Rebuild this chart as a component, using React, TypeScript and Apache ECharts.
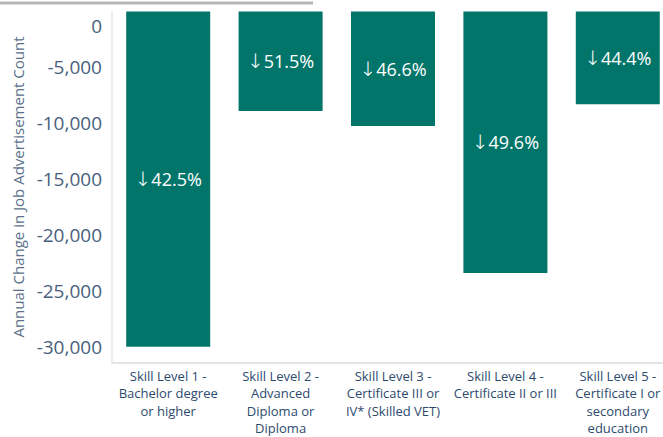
import React, { useEffect, useRef } from "react";
import * as echarts from "echarts";

const categories = [
  "Skill Level 1 -\nBachelor degree\nor higher",
  "Skill Level 2 -\nAdvanced\nDiploma or\nDiploma",
  "Skill Level 3 -\nCertificate III or\nIV* (Skilled VET)",
  "Skill Level 4 -\nCertificate II or III",
  "Skill Level 5 -\nCertificate I or\nsecondary\neducation",
];
const changeValues = [-29930, -8880, -10220, -23350, -8290];
const pctDecline = [42.5, 51.5, 46.6, 49.6, 44.4];
const yTickStep = 5000;

export default function App() {
  const ref = useRef<HTMLDivElement>(null);
  useEffect(() => {
    if (!ref.current) return;
    const chart = echarts.init(ref.current, null, { renderer: "svg" });
    chart.setOption({
      animation: false,
      backgroundColor: "#ffffff",
      grid: {
        left: 112,
        top: 11.5,
        width: 562,
        height: 351,
        containLabel: false,
        outerBoundsMode: "none",
      },
      graphic: [
        {
          type: "rect",
          shape: { x: 0, y: 1.5, width: 313, height: 3 },
          style: { fill: "#b7b7b7" },
        },
      ],
      xAxis: {
        type: "category",
        data: categories,
        position: "bottom",
        axisLine: { show: true, onZero: false, lineStyle: { color: "#e4e4e4", width: 2 } },
        axisTick: { show: false },
        axisLabel: {
          interval: 0,
          color: "#2d4a6e",
          fontFamily: "Open Sans",
          fontSize: 13,
          lineHeight: 17.3,
          margin: 5,
          fontWeight: 500,
        },
      },
      yAxis: {
        type: "value",
        min: -31340,
        max: 0,
        splitNumber: 6,
        name: "Annual Change in Job Advertisement Count",
        nameLocation: "middle",
        nameRotate: 90,
        nameGap: 86,
        nameTextStyle: { color: "#5a6f8a", fontFamily: "Open Sans", fontSize: 15 },
        axisLine: { show: true, lineStyle: { color: "#e8e8e8", width: 1.5 } },
        axisTick: { show: false },
        splitLine: { show: false },
        axisLabel: {
          showMinLabel: false,
          color: "#48607e",
          fontFamily: "Open Sans",
          fontSize: 19,
          margin: 10,
          formatter: (v: number) => {
            if (v % yTickStep !== 0) return "";
            if (v === 0) return "{z|0}";
            return v.toLocaleString("en-US");
          },
          rich: {
            z: { color: "#48607e", fontFamily: "Open Sans", fontSize: 19, padding: [29, 0, 0, 0] },
          },
        },
      },
      series: [
        {
          type: "bar",
          data: changeValues,
          barWidth: 84,
          itemStyle: { color: "#02756a" },
          label: {
            show: true,
            position: "inside",
            color: "#ffffff",
            fontFamily: "Open Sans",
            fontSize: 18,
            formatter: (p: any) => "{a|\u2193}" + pctDecline[p.dataIndex].toFixed(1) + "%",
            rich: {
              a: { color: "#ffffff", fontFamily: "DejaVu Sans", fontSize: 20, fontWeight: 200 },
            },
          },
        },
      ],
    });
    return () => chart.dispose();
  }, []);
  return (
    <div
      ref={ref}
      style={{ position: "fixed", left: 0, top: 0, width: 663, height: 437 }}
    />
  );
}
